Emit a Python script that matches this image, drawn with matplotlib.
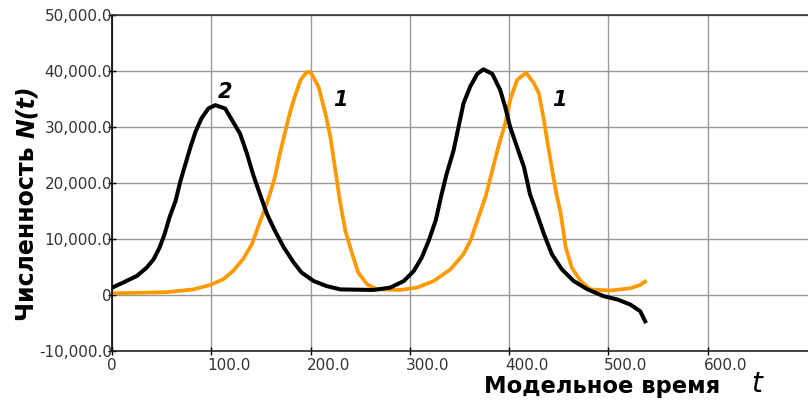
import numpy as np
import matplotlib
matplotlib.use("Agg")
import matplotlib.pyplot as plt
import matplotlib.transforms as mtransforms

# curve 1 (orange)
t1 = [0, 55, 82, 99, 112, 122, 132, 141, 147, 154, 159, 164, 169, 174, 179,
      184, 190, 196, 200, 208, 215, 220, 225, 230, 235, 242, 248, 257, 267,
      290, 307, 324, 341, 354, 361, 368, 376, 383, 389, 396, 401, 408, 417,
      425, 430, 435, 440, 447, 452, 457, 463, 472, 482, 502, 522, 532, 537]
n1 = [300, 500, 1000, 1800, 2800, 4300, 6400, 9100, 12100, 15400, 18000,
      21000, 25200, 28800, 32400, 35400, 38400, 39800, 39800, 37200, 32400,
      28200, 22200, 16300, 11500, 7300, 4000, 1900, 1000, 900, 1300, 2500,
      4600, 7300, 9700, 13300, 17400, 22200, 26400, 30600, 34800, 38400,
      39700, 37800, 36000, 31200, 25800, 18600, 14500, 8500, 4900, 2500,
      1000, 800, 1200, 1800, 2400]

# curve 2 (black)
t2 = [0, 11, 25, 35, 42, 48, 53, 58, 64, 69, 74, 79, 84, 90, 97, 104, 114,
      122, 129, 136, 142, 149, 156, 164, 173, 183, 191, 203, 216, 230, 263,
      280, 294, 304, 312, 319, 326, 332, 337, 344, 349, 354, 361, 368, 374,
      383, 391, 396, 401, 408, 415, 421, 428, 435, 443, 453, 465, 479, 495,
      509, 522, 532, 537]
n2 = [1300, 2200, 3400, 4900, 6400, 8500, 10900, 13900, 16800, 20400, 23400,
      26400, 29100, 31500, 33300, 33900, 33300, 30900, 28800, 25200, 21600,
      18000, 14500, 11500, 8500, 5800, 4000, 2500, 1600, 1000, 900, 1300,
      2500, 4300, 6700, 9700, 13300, 18000, 21600, 25800, 30000, 34200,
      37300, 39500, 40300, 39500, 36600, 33600, 30000, 26400, 22800, 18000,
      14500, 10900, 7300, 4600, 2500, 1000, -200, -800, -1700, -2900, -4700]

xticks = [0, 100, 200, 300, 400, 500, 600]
xtick_labels = ['0', '100.0', '200.0', '300.0', '400.0', '500.0', '600.0']
yticks = [-10000, 0, 10000, 20000, 30000, 40000, 50000]
ytick_labels = ['-10,000.0', '0', '10,000.0', '20,000.0', '30,000.0',
                '40,000.0', '50,000.0']

fig = plt.figure(figsize=(8.08, 4.0), dpi=100)
ax = fig.add_axes([112/808, 49/400, 696/808, 336/400])

ax.plot(t1, n1, color='#FF9900', lw=2.7, solid_joinstyle='round')
ax.plot(t2, n2, color='black', lw=2.9, solid_joinstyle='round')

ax.set_xlim(0, 701)
ax.set_ylim(-10000, 50000)
ax.set_xticks(xticks)
ax.set_xticklabels(xtick_labels)
ax.set_yticks(yticks)
ax.set_yticklabels(ytick_labels)
ax.grid(True, color='#999999', lw=1)
ax.set_axisbelow(True)

ax.spines['right'].set_visible(False)
ax.spines['left'].set_color('black')
ax.spines['bottom'].set_color('#222222')
ax.spines['top'].set_color('#333333')
for s in ['left', 'bottom', 'top']:
    ax.spines[s].set_linewidth(1.2)

ax.tick_params(axis='both', direction='inout', length=6, width=1,
               labelsize=11, labelcolor='#333333', color='black')
ax.tick_params(axis='y', pad=-3)
ax.tick_params(axis='x', pad=2)
off = mtransforms.ScaledTranslation(-3/72, 0, fig.dpi_scale_trans)
for i, lab in enumerate(ax.get_xticklabels()):
    if i > 0:
        lab.set_horizontalalignment('left')
        lab.set_transform(lab.get_transform() + off)

ax.text(107, 35100, '2', fontsize=15, fontweight='bold', fontstyle='italic')
ax.text(223, 33700, '1', fontsize=15, fontweight='bold', fontstyle='italic')
ax.text(443, 33700, '1', fontsize=15, fontweight='bold', fontstyle='italic')

# y label: bold word + bold italic N(t), centred on the axis
yl1 = fig.text(27/808, 0.5, 'Численность ', rotation=90,
               fontsize=17, fontweight='bold', ha='center', va='bottom')
yl2 = fig.text(27/808, 0.5, 'N(t)', rotation=90, fontsize=17,
               fontweight='bold', fontstyle='italic', ha='center', va='bottom')
fig.canvas.draw()
h1 = yl1.get_window_extent().height
h2 = yl2.get_window_extent().height
y0 = (400 - 203) - (h1 + h2) / 2
yl1.set_y(y0 / 400)
yl2.set_y((y0 + h1) / 400)

fig.text(602/808, 1 - 387/400, 'Модельное время', fontsize=16.3,
         fontweight='bold', ha='center', va='center')
fig.text(757/808, 1 - 384/400, 't', fontsize=20, fontstyle='italic',
         ha='center', va='center')

fig.savefig('out.png', dpi=100)
